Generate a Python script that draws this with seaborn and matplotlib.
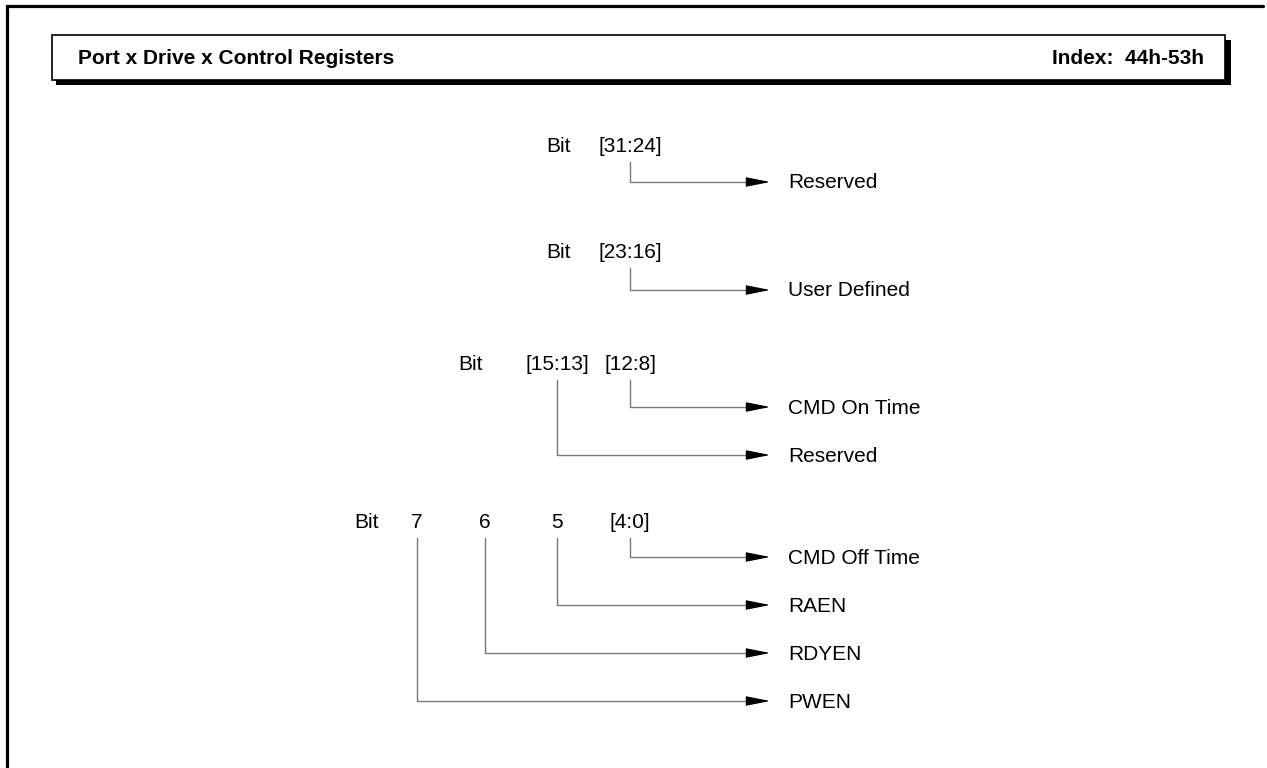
import matplotlib
matplotlib.use("Agg")
import matplotlib.pyplot as plt
import seaborn as sns
from matplotlib.patches import Rectangle

# register content
title = "Port x Drive x Control Registers"
index_text = "Index:  44h-53h"

g1_bits = ["[31:24]"]
g1_names = ["Reserved"]
g2_bits = ["[23:16]"]
g2_names = ["User Defined"]
g3_bits = ["[15:13]", "[12:8]"]
g3_names = ["CMD On Time", "Reserved"]
g4_bits = ["7", "6", "5", "[4:0]"]
g4_names = ["CMD Off Time", "RAEN", "RDYEN", "PWEN"]

groups = [(g1_bits, g1_names), (g2_bits, g2_names), (g3_bits, g3_names), (g4_bits, g4_names)]

# layout (pixels)
col_x = [630, 557, 485, 417]          # bit columns, right to left
bit_word_x = [559, 559, 470, 367]     # where "Bit" sits in each group
head_y = [147, 253, 365, 523]
first_arrow_y = [182, 290, 407, 557]
row_step = 48
arrow_tip = 770
label_x = 788

sns.set_theme(style="white")
plt.rcParams['font.family'] = ['Liberation Sans', 'DejaVu Sans']

fig = plt.figure(figsize=(12.67, 7.68), dpi=100)
ax = fig.add_axes([0, 0, 1, 1])
ax.set_xlim(0, 1267)
ax.set_ylim(768, 0)
ax.axis("off")

# outer frame (left and top)
ax.plot([7, 7, 1263], [768, 6, 6], color="black", lw=2.3, solid_joinstyle="miter")

# header box with drop shadow
ax.add_patch(Rectangle((56, 40), 1175, 45, facecolor="black", edgecolor="none"))
ax.add_patch(Rectangle((52, 35), 1173, 45, facecolor="white", edgecolor="black", lw=1.2))
ax.text(78, 58, title, fontsize=15, fontweight="bold", va="center", ha="left", color="black")
ax.text(1204, 58, index_text, fontsize=15, fontweight="bold", va="center", ha="right", color="black")

fs = 15
for gi, (bits, names) in enumerate(groups):
    hy = head_y[gi]
    ax.text(bit_word_x[gi], hy, "Bit", fontsize=fs, ha="center", va="center", color="black")
    n = len(bits)
    for j, b in enumerate(bits):
        # bits are listed left to right; column index counted from the right
        k = n - 1 - j
        x = col_x[k]
        ax.text(x, hy, b, fontsize=fs, ha="center", va="center", color="black")
        ay = first_arrow_y[gi] + k * row_step
        ax.plot([x, x, arrow_tip - 12], [hy + 15, ay, ay], color="#7a7a7a", lw=1.0)
        ax.annotate("", xy=(arrow_tip, ay), xytext=(arrow_tip - 16, ay),
                    arrowprops=dict(arrowstyle="-|>,head_length=1.5,head_width=0.3",
                                    mutation_scale=10, color="black", lw=0.8,
                                    shrinkA=0, shrinkB=0))
    for k, name in enumerate(names):
        ay = first_arrow_y[gi] + k * row_step
        ax.text(label_x, ay + 1, name, fontsize=fs, ha="left", va="center", color="black")

fig.savefig("out.png", dpi=100, facecolor="white")
